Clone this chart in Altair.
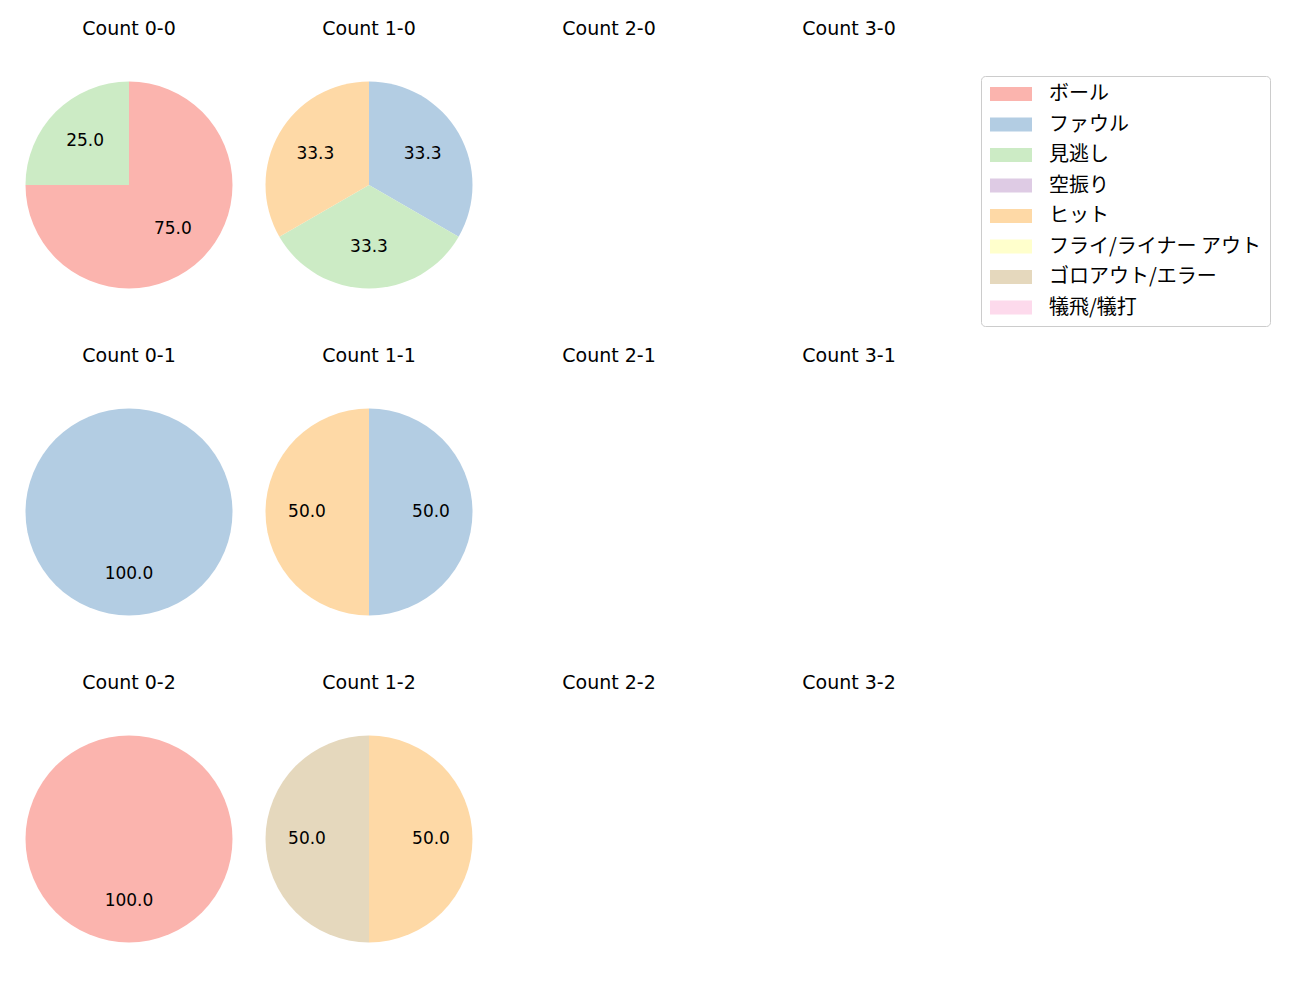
import altair as alt
import pandas as pd

categories = ["ボール", "ファウル", "見逃し", "空振り", "ヒット",
              "フライ/ライナー アウト", "ゴロアウト/エラー", "犠飛/犠打"]
colors = ["#fbb4ae", "#b3cde3", "#ccebc5", "#decbe4", "#fed9a6",
          "#ffffcc", "#e5d8bd", "#fddaec"]

strikes = [0, 1, 2]
balls = [0, 1, 2, 3]

# (count label, category, percent)
count_labels = ["0-0", "0-0", "1-0", "1-0", "1-0", "0-1", "1-1", "1-1", "0-2", "1-2", "1-2"]
slice_cats = ["ボール", "見逃し", "ファウル", "見逃し", "ヒット", "ファウル",
              "ファウル", "ヒット", "ボール", "ヒット", "ゴロアウト/エラー"]
slice_vals = [75.0, 25.0, 33.333, 33.333, 33.334, 100.0, 50.0, 50.0, 100.0, 50.0, 50.0]

df = pd.DataFrame({"count": count_labels, "category": slice_cats, "value": slice_vals})
df["idx"] = df["category"].map({c: i for i, c in enumerate(categories)})

LATIN = "DejaVu Sans"
CJK = "Noto Sans CJK JP"
W = 208

color_enc = alt.Color(
    "category:N",
    scale=alt.Scale(domain=categories, range=colors),
    sort=categories,
    legend=alt.Legend(
        title=None,
        orient="none",
        legendX=956,
        legendY=-5,
        symbolType="M-3,-1H3V1H-3Z",
        symbolSize=196,
        symbolStrokeWidth=0,
        symbolOpacity=1,
        symbolOffset=12,
        labelOffset=28,
        labelFontSize=20,
        labelFont=CJK,
        labelColor="#000",
        rowPadding=10.5,
        padding=8,
        strokeColor="#cccccc",
        cornerRadius=4,
        fillColor="white",
        labelLimit=400,
    ),
)


def panel(b, s):
    label = f"{b}-{s}"
    base = alt.Chart(df).transform_filter(alt.datum["count"] == label)
    arcs = base.mark_arc(outerRadius=103.5, stroke=None).encode(
        theta=alt.Theta("value:Q", stack=True),
        color=color_enc,
        order=alt.Order("idx:Q"),
    )
    texts = base.mark_text(radius=62, fontSize=17, font=LATIN, color="black").encode(
        theta=alt.Theta("value:Q", stack=True),
        text=alt.Text("value:Q", format=".1f"),
        order=alt.Order("idx:Q"),
    )
    return alt.layer(arcs, texts).properties(
        width=W,
        height=W,
        title=alt.TitleParams(
            f"Count {label}", fontSize=19, font=LATIN, fontWeight="normal",
            color="black", offset=42, anchor="middle",
        ),
    )


rows = []
for s in strikes:
    row = alt.hconcat(*[panel(b, s) for b in balls], spacing=32).resolve_scale(theta="independent")
    rows.append(row)

chart = alt.vconcat(*rows, spacing=58).resolve_scale(theta="independent").properties(
    padding={"left": 25, "top": 20, "right": 5, "bottom": 5}
).configure_view(strokeWidth=0)

chart.save("out.html", embed_options={"renderer": "svg", "actions": False})
